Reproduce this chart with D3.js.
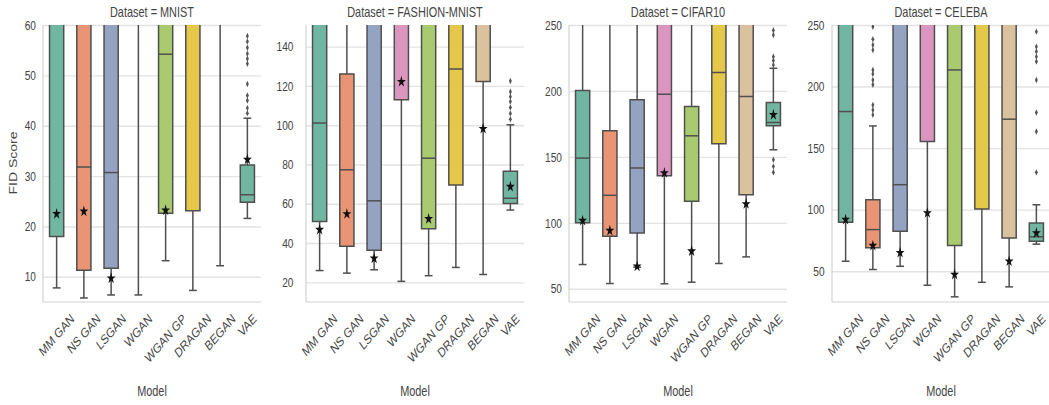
<!DOCTYPE html>
<html>
<head>
<meta charset="utf-8">
<script src="https://cdn.jsdelivr.net/npm/d3@7"></script>
<style>
  body { margin: 0; background: #fff; }
  text { font-family: "Liberation Sans", Arial, sans-serif; fill: #444; }
</style>
</head>
<body>
<svg id="chart" width="1049" height="405"></svg>
<script>
// Categories
var models = ["MM GAN", "NS GAN", "LSGAN", "WGAN", "WGAN GP", "DRAGAN", "BEGAN", "VAE"]
var datasets = ["MNIST", "FASHION-MNIST", "CIFAR10", "CELEBA"]

// Axis ranges and tick labels, one row per dataset
var yDomains = [[5, 60], [10, 151], [40, 250], [25, 250]]
var yTicks = [
    [10, 20, 30, 40, 50, 60],
    [20, 40, 60, 80, 100, 120, 140],
    [50, 100, 150, 200, 250],
    [50, 100, 150, 200, 250]
]

// Box statistics, one row per dataset, one value per model
var whiskerLow = [
    [7.8, 5.8, 6.4, 6.4, 13.2, 7.3, 12.2, 21.6],
    [26, 24.7, 26.4, 20.5, 23.4, 27.6, 24, 56.8],
    [68.4, 54, 66.4, 53.8, 55, 69.2, 74.2, 155.4],
    [58.1, 51.4, 54, 38.6, 29.2, 41, 37.3, 72]
]
var q1 = [
    [18, 11.3, 11.7, 75, 22.6, 23.1, 80, 24.8],
    [51, 38.4, 36.4, 113, 47.3, 69.5, 122.3, 60.1],
    [100, 89.8, 92.4, 135.8, 116.3, 160, 121.4, 173.6],
    [89.7, 69, 82.4, 155.4, 70.8, 100.5, 77, 74.3]
]
var median = [
    [80, 31.8, 30.7, 110, 54.2, 90, 120, 26.3],
    [101.1, 77.3, 61.5, 160, 83.2, 128.6, 165, 62.8],
    [149.1, 120.9, 141.6, 197.5, 166, 214, 195.8, 176.1],
    [179.7, 83.8, 120.3, 270, 213.5, 280, 173.5, 78]
]
var q3 = [
    [150, 120, 130, 200, 110, 200, 250, 32.2],
    [200, 126.1, 220, 250, 200, 230, 260, 76.5],
    [200.3, 169.8, 193.3, 280, 188.2, 290, 270, 191.2],
    [290, 108.1, 300, 350, 300, 400, 300, 89.2]
]
var whiskerHigh = [
    [300, 300, 300, 400, 250, 400, 450, 41.5],
    [350, 200, 400, 400, 350, 400, 400, 100.2],
    [290, 270, 275, 400, 265, 400, 400, 217.2],
    [400, 168, 450, 450, 450, 500, 450, 104]
]
// best run of each model (star marker)
var best = [
    [22.5, 23, 9.7, null, 23.2, null, null, 33.3],
    [46.8, 54.8, 32.2, 122.1, 52.3, null, 98.2, 68.7],
    [101.7, 94.1, 67, 137.8, 78.5, null, 114.3, 181.9],
    [91.9, 70.8, 65, 97.3, 47.3, null, 58.1, 81]
]
// outliers
var outliersMnist = { "VAE": [42.5, 43.5, 45, 46, 48.3, 52.3, 53.3, 54.3, 55.5, 56.7, 57.8] }
var outliersFashion = { "VAE": [103, 106, 109, 112, 114.5, 117, 122.5] }
var outliersCifar = { "VAE": [138.3, 142.8, 147.9, 219.7, 223, 226, 242.4, 246] }
var outliersCeleba = {
    "NS GAN": [177, 181, 185, 201.4, 205.4, 210.3, 213.5, 229.7, 233.8, 238.4, 248.6],
    "VAE": [130.3, 163.5, 179, 205.4, 220.3, 224.3, 228.4, 232.4, 244.6]
}
var outliers = [outliersMnist, outliersFashion, outliersCifar, outliersCeleba]

var palette = ["#71b6a0", "#e99575", "#95a3c3", "#db96c0", "#a9ca6f", "#e5c849", "#dbc29e", "#71b6a0"]

// Layout (the whole figure is drawn wide and squeezed horizontally)
const S = 0.78
const TILT = 42
const panelLeft = [43, 306, 569, 832]
const panelWidth = 218
const tickPad = [7, 12.5, 7, 7.5]
const plotTop = 25, plotBottom = 302
const labelTop = 313
const xLabelSize = 13.5
const lineColor = "#4f4f4f"
const FONT = '"Liberation Sans", Arial, sans-serif'

const svg = d3.select("#chart")
const root = svg.append("g").attr("transform", `scale(${S},1)`)
const defs = svg.append("defs")

// y axis label
root.append("text")
    .attr("transform", `translate(${14 / S},163) rotate(-90)`)
    .attr("text-anchor", "middle")
    .attr("dominant-baseline", "central")
    .attr("font-size", 14)
    .text("FID Score")

datasets.forEach((name, k) => {
    const pw = panelWidth / S
    const g = root.append("g").attr("transform", `translate(${panelLeft[k] / S},0)`)

    const x = d3.scaleBand().domain(models).range([0, pw])
    const y = d3.scaleLinear().domain(yDomains[k]).range([plotBottom, plotTop])

    // grid lines and tick labels
    const yAxis = g.append("g")
        .call(d3.axisLeft(y).tickValues(yTicks[k]).tickSize(-pw).tickPadding(tickPad[k] / S))
        .attr("font-size", 13)
        .attr("font-family", FONT)
    yAxis.select(".domain").remove()
    yAxis.selectAll("line")
        .attr("stroke", "#e3e3e3")
        .attr("stroke-width", 1.4)
        .attr("vector-effect", "non-scaling-stroke")
    yAxis.selectAll("text").attr("fill", "#444")

    // spines
    g.append("line")
        .attr("x1", 0).attr("x2", 0)
        .attr("y1", plotTop).attr("y2", plotBottom)
        .attr("stroke", "#d2d2d2").attr("stroke-width", 1.2)
        .attr("vector-effect", "non-scaling-stroke")
    g.append("line")
        .attr("x1", 0).attr("x2", pw)
        .attr("y1", plotBottom).attr("y2", plotBottom)
        .attr("stroke", "#d2d2d2").attr("stroke-width", 1.2)
        .attr("vector-effect", "non-scaling-stroke")

    // x tick labels (rotated, bbox centred under the tick)
    const xAxis = g.append("g")
        .attr("transform", `translate(0,${plotBottom})`)
        .call(d3.axisBottom(x).tickSize(0).tickPadding(0))
        .attr("font-size", xLabelSize)
        .attr("font-family", FONT)
    xAxis.select(".domain").remove()
    const rad = TILT * Math.PI / 180
    xAxis.selectAll("text")
        .attr("fill", "#444")
        .attr("y", 0).attr("dy", null)
        .attr("text-anchor", "middle")
        .attr("dominant-baseline", "central")
        .each(function () {
            const L = this.getComputedTextLength()
            const h = xLabelSize * 0.72
            const half = (L * Math.sin(rad) + h * Math.cos(rad)) / 2
            d3.select(this).attr("transform",
                `translate(0,${labelTop - plotBottom + half}) rotate(${-TILT})`)
        })

    // title and x label
    g.append("text")
        .attr("x", pw / 2).attr("y", 17)
        .attr("text-anchor", "middle")
        .attr("font-size", 14)
        .text(`Dataset = ${name}`)
    g.append("text")
        .attr("x", pw / 2).attr("y", 396)
        .attr("text-anchor", "middle")
        .attr("font-size", 14)
        .text("Model")

    // clip area
    defs.append("clipPath").attr("id", "clip" + k)
        .append("rect")
        .attr("x", 0).attr("y", plotTop)
        .attr("width", pw).attr("height", plotBottom - plotTop)

    const marks = g.append("g").attr("clip-path", `url(#clip${k})`)

    const rows = models.map((m, i) => ({
        model: m, color: palette[i],
        low: whiskerLow[k][i], q1: q1[k][i], med: median[k][i],
        q3: q3[k][i], high: whiskerHigh[k][i], best: best[k][i],
        fliers: outliers[k][m] || []
    }))

    const bw = x.bandwidth() * 0.52
    const cw = bw * 0.55

    const box = marks.selectAll("g.box")
        .data(rows)
        .enter().append("g")
        .attr("class", "box")
        .attr("transform", d => `translate(${x(d.model) + x.bandwidth() / 2},0)`)

    // whiskers
    box.append("line")
        .attr("y1", d => y(d.low)).attr("y2", d => y(d.q1))
    box.append("line")
        .attr("y1", d => y(d.q3)).attr("y2", d => y(d.high))
    // caps
    box.append("line")
        .attr("x1", -cw / 2).attr("x2", cw / 2)
        .attr("y1", d => y(d.low)).attr("y2", d => y(d.low))
    box.append("line")
        .attr("x1", -cw / 2).attr("x2", cw / 2)
        .attr("y1", d => y(d.high)).attr("y2", d => y(d.high))
    // box
    box.append("rect")
        .attr("x", -bw / 2).attr("width", bw)
        .attr("y", d => y(d.q3))
        .attr("height", d => y(d.q1) - y(d.q3))
        .attr("fill", d => d.color)
    // median
    box.append("line")
        .attr("x1", -bw / 2).attr("x2", bw / 2)
        .attr("y1", d => y(d.med)).attr("y2", d => y(d.med))

    box.selectAll("line, rect")
        .attr("stroke", lineColor)
        .attr("stroke-width", 1.5)
        .attr("vector-effect", "non-scaling-stroke")

    // outliers
    box.selectAll("path.flier")
        .data(d => d.fliers)
        .enter().append("path")
        .attr("class", "flier")
        .attr("d", d3.symbol(d3.symbolDiamond, 12))
        .attr("transform", v => `translate(0,${y(v)})`)
        .attr("fill", "#555")

    // best score star
    box.filter(d => d.best != null)
        .append("path")
        .attr("d", d3.symbol(d3.symbolStar, 40))
        .attr("transform", d => `translate(0,${y(d.best)})`)
        .attr("fill", "#111")
})
</script>
</body>
</html>
